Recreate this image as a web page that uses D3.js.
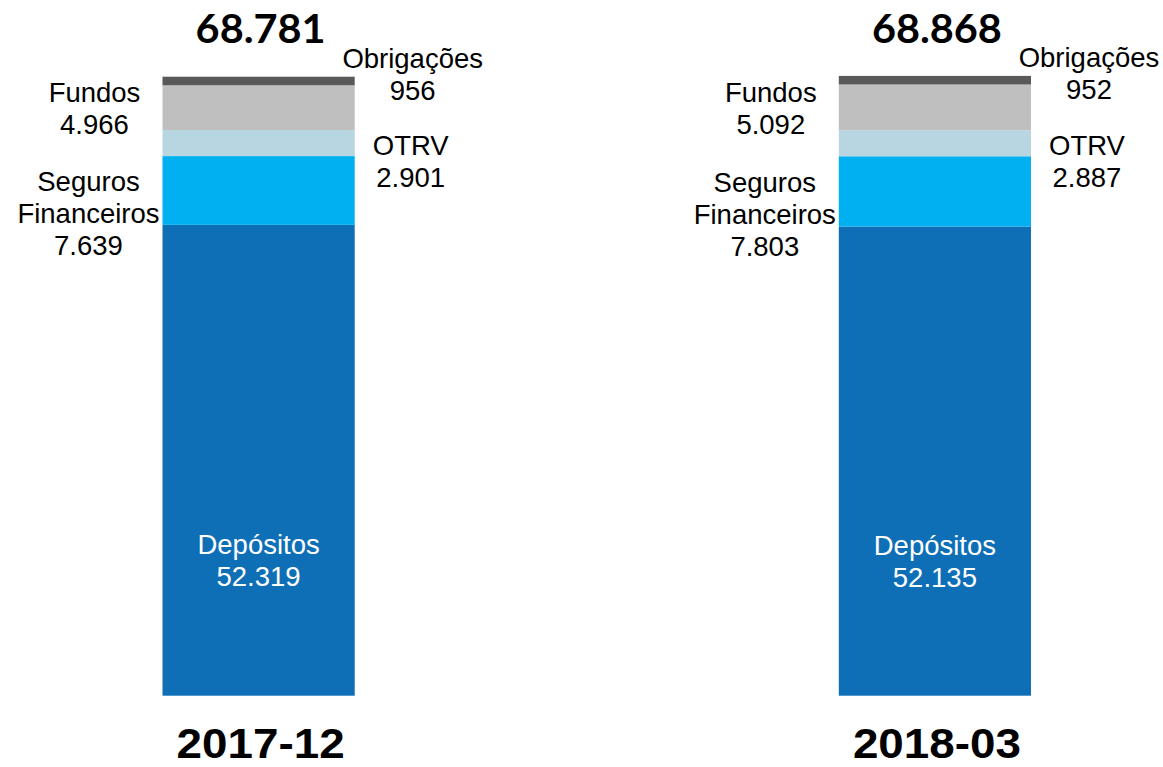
<!DOCTYPE html>
<html>
<head>
<meta charset="utf-8">
<script src="https://cdn.jsdelivr.net/npm/d3@7"></script>
<style>
  body { margin: 0; background: #fff; }
  svg { display: block; }
</style>
</head>
<body>
<svg width="1163" height="767"></svg>
<script>
// data
const periods = ["2017-12", "2018-03"];
const series = ["Depósitos", "Seguros Financeiros", "OTRV", "Fundos", "Obrigações"];
const depositos = [52319, 52135];
const seguros = [7639, 7803];
const otrv = [2901, 2887];
const fundos = [4966, 5092];
const obrigacoes = [956, 952];
const totals = [68781, 68868];

const colors = ["#0e6fb7", "#00b0f0", "#b7d6e1", "#bfbfbf", "#595959"];

// label placement per series: side of bar, x offset, y offset from segment middle
const labelCfg = {
  "Depósitos": { side: "in", dx: 0, dy: 100, lines: ["Depósitos"], fill: "#fff" },
  "Seguros Financeiros": { side: "left", dx: -74, dy: 23, lines: ["Seguros", "Financeiros"], fill: "#000" },
  "OTRV": { side: "right", dx: 56, dy: 18, lines: ["OTRV"], fill: "#000" },
  "Fundos": { side: "left", dx: -68, dy: 1, lines: ["Fundos"], fill: "#000" },
  "Obrigações": { side: "right", dx: 58, dy: -7, lines: ["Obrigações"], fill: "#000" }
};

const fmt = d3.formatLocale({ decimal: ",", thousands: ".", grouping: [3], currency: ["", "€"] }).format(",d");

const rows = periods.map((p, i) => ({
  period: p,
  "Depósitos": depositos[i],
  "Seguros Financeiros": seguros[i],
  "OTRV": otrv[i],
  "Fundos": fundos[i],
  "Obrigações": obrigacoes[i],
  total: totals[i]
}));

const svg = d3.select("svg");

const x = d3.scaleBand()
  .domain(periods)
  .range([162.5, 1031])
  .paddingInner(0.7158)
  .paddingOuter(0);

const y = d3.scaleLinear()
  .domain([0, 68781])
  .range([695.7, 76.7]);

const stacked = d3.stack().keys(series)(rows);

const layers = svg.append("g")
  .selectAll("g")
  .data(stacked)
  .join("g")
  .attr("fill", (d, i) => colors[i]);

layers.selectAll("rect")
  .data(d => d)
  .join("rect")
  .attr("x", d => x(d.data.period))
  .attr("y", d => y(d[1]))
  .attr("width", x.bandwidth())
  .attr("height", d => y(d[0]) - y(d[1]));

// segment labels
const lineH = 32;
const fontSize = 27.5;
const labelFont = "'Liberation Sans', Arial, sans-serif";

stacked.forEach(layer => {
  const cfg = labelCfg[layer.key];
  layer.forEach(d => {
    const x0 = x(d.data.period);
    let cx;
    if (cfg.side === "left") cx = x0 + cfg.dx;
    else if (cfg.side === "right") cx = x0 + x.bandwidth() + cfg.dx;
    else cx = x0 + x.bandwidth() / 2;
    const cy = (y(d[0]) + y(d[1])) / 2 + cfg.dy;
    const lines = cfg.lines.concat([fmt(d.data[layer.key])]);
    const n = lines.length;
    const capH = fontSize * 0.716;
    const firstBase = cy - ((n - 1) * lineH) / 2 + capH / 2;
    const t = svg.append("text")
      .attr("text-anchor", "middle")
      .attr("font-family", labelFont)
      .attr("font-size", fontSize)
      .attr("fill", cfg.fill);
    lines.forEach((ln, j) => {
      t.append("tspan")
        .attr("x", cx)
        .attr("y", firstBase + j * lineH)
        .text(ln);
    });
  });
});

// totals on top
svg.append("g")
  .selectAll("text")
  .data(rows)
  .join("text")
  .attr("x", d => x(d.period) + x.bandwidth() / 2 + 2)
  .attr("y", 43)
  .attr("text-anchor", "middle")
  .attr("font-family", "Lato, 'Open Sans', sans-serif")
  .attr("font-weight", "bold")
  .attr("font-size", 40)
  .attr("textLength", 130)
  .attr("lengthAdjust", "spacingAndGlyphs")
  .text(d => fmt(d.total));

// period labels
svg.append("g")
  .selectAll("text")
  .data(rows)
  .join("text")
  .attr("x", d => x(d.period) + x.bandwidth() / 2 + 2)
  .attr("y", 758)
  .attr("text-anchor", "middle")
  .attr("font-family", labelFont)
  .attr("font-weight", "bold")
  .attr("font-size", 42)
  .attr("textLength", 168)
  .attr("lengthAdjust", "spacingAndGlyphs")
  .text(d => d.period);
</script>
</body>
</html>
